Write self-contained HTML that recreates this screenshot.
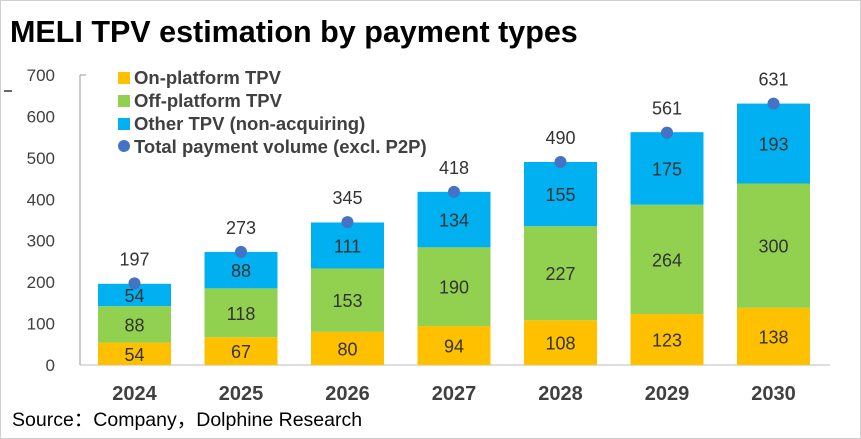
<!DOCTYPE html>
<html><head><meta charset="utf-8"><style>
body{margin:0;background:#fff}
svg{display:block;font-family:"Liberation Sans","Noto Sans CJK SC",sans-serif}
</style></head><body>
<svg id="c" width="861" height="439">
<rect x="0.5" y="0.5" width="860" height="438" fill="#fff" stroke="#d0d0d0"/>
<text x="10" y="42" font-size="30.5" font-weight="bold" fill="#000">MELI TPV estimation by payment types</text>
<line x1="4" y1="91" x2="12" y2="91" stroke="#333" stroke-width="1.5"/>
<line x1="80" y1="75" x2="86" y2="75" stroke="#999"/>
<line x1="80" y1="75" x2="80" y2="365" stroke="#999"/>
<line x1="80" y1="365" x2="830" y2="365" stroke="#bbb"/>
<g id="legend" font-size="18.5" font-weight="bold" fill="#404040">
<rect x="118" y="72" width="12" height="12" fill="#FFC000"/>
<text x="134" y="84">On-platform TPV</text>
<rect x="118" y="95" width="12" height="12" fill="#92D050"/>
<text x="134" y="107">Off-platform TPV</text>
<rect x="118" y="118" width="12" height="12" fill="#00B0F0"/>
<text x="134" y="130">Other TPV (non-acquiring)</text>
<circle cx="124" cy="146" r="6" fill="#4472C4"/>
<text x="134" y="153">Total payment volume (excl. P2P)</text>
</g>
<text x="12" y="426" font-size="19.5" fill="#000">Source：Company，Dolphine Research</text>
</svg>
<script>
const years=["2024","2025","2026","2027","2028","2029","2030"];
const onPlatform=[54,67,80,94,108,123,138];
const offPlatform=[88,118,153,190,227,264,300];
const otherTPV=[54,88,111,134,155,175,193];
const totals=[197,273,345,418,490,561,631];
const yTicks=[0,100,200,300,400,500,600,700];
const NS="http://www.w3.org/2000/svg";
const svg=document.getElementById('c');
const y=v=>365-v*(290/700);
const x=i=>134.5+i*106.5;
const BW=73;
function mk(tag,attrs,txt){const e=document.createElementNS(NS,tag);for(const k in attrs)e.setAttribute(k,attrs[k]);if(txt!==undefined)e.textContent=txt;svg.insertBefore(e,document.getElementById('legend'));return e;}
yTicks.forEach(t=>{const e=mk('text',{x:55,y:y(t)+6,'font-size':17,fill:'#404040','text-anchor':'end'},t);

});
const series=[[onPlatform,'#FFC000','on-platform'],[offPlatform,'#92D050','off-platform'],[otherTPV,'#00B0F0','other']];
years.forEach((yr,i)=>{
 let base=0;
 series.forEach(([arr,col,nm])=>{
  const v=arr[i];
  const r=mk('rect',{x:x(i)-BW/2,y:y(base+v),width:BW,height:y(base)-y(base+v),fill:col});
  
  
  const t=mk('text',{x:x(i),y:(y(base)+y(base+v))/2+7,'font-size':18,fill:'#333','text-anchor':'middle'},v);
  
  
  base+=v;
 });
 const c=mk('circle',{cx:x(i),cy:y(totals[i]),r:6,fill:'#4472C4'});
 
 
 const tl=mk('text',{x:x(i),y:y(totals[i])-18,'font-size':18,fill:'#333','text-anchor':'middle'},totals[i]);
 
 
 const xl=mk('text',{x:x(i),y:400,'font-size':20,'font-weight':'bold',fill:'#404040','text-anchor':'middle'},yr);
 
 
});
</script>
</body></html>
